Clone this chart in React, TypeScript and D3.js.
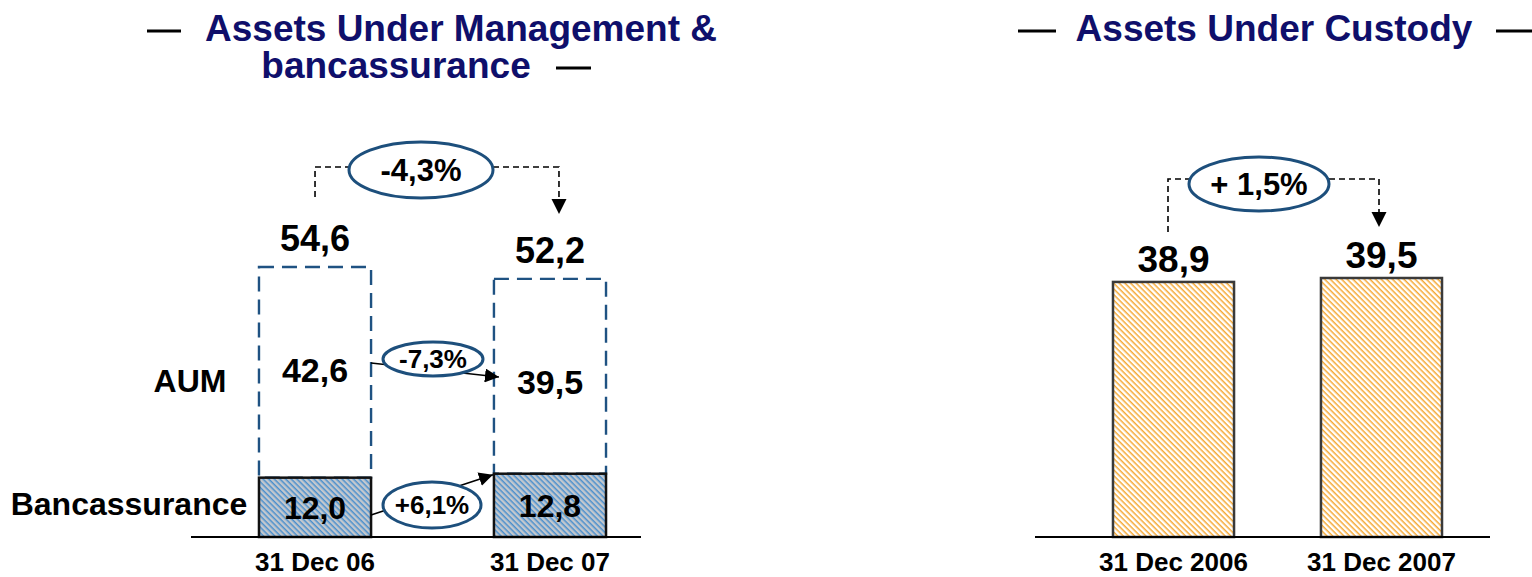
import React, { useRef, useEffect } from 'react';
import * as d3 from 'd3';

// left panel: AUM & bancassurance (EUR bn)
const aumDates = ['31 Dec 06', '31 Dec 07'];
const bancassurance = [12.0, 12.8];
const aum = [42.6, 39.5];
const totals = [54.6, 52.2];
const totalGrowth = '-4,3%';
const aumGrowth = '-7,3%';
const bancGrowth = '+6,1%';

// right panel: assets under custody
const aucDates = ['31 Dec 2006', '31 Dec 2007'];
const auc = [38.9, 39.5];
const aucGrowth = '+ 1,5%';

const W = 1532;
const H = 577;
const FONT = '"Liberation Sans", Arial, Helvetica, sans-serif';
const NAVY = '#0f0f6b';
const RING = '#1d4f7c';

const App = () => {
  const svgRef = useRef<SVGSVGElement>(null);

  useEffect(() => {
    const svg = d3.select(svgRef.current);
    svg.selectAll('*').remove();

    const defs = svg.append('defs');
    // hatch patterns
    const orange = defs.append('pattern')
      .attr('id', 'hatchOrange')
      .attr('patternUnits', 'userSpaceOnUse')
      .attr('width', 4).attr('height', 4)
      .attr('patternTransform', 'rotate(45)');
    orange.append('rect').attr('width', 4).attr('height', 4).attr('fill', '#fff');
    orange.append('rect').attr('width', 4).attr('height', 1.5).attr('fill', '#f5a834');

    const blue = defs.append('pattern')
      .attr('id', 'hatchBlue')
      .attr('patternUnits', 'userSpaceOnUse')
      .attr('width', 4).attr('height', 4)
      .attr('patternTransform', 'rotate(45)');
    blue.append('rect').attr('width', 4).attr('height', 4).attr('fill', '#c3c8ce');
    blue.append('rect').attr('width', 4).attr('height', 1.5).attr('fill', '#4a8fcd');

    defs.append('marker')
      .attr('id', 'arrow')
      .attr('viewBox', '0 0 10 10')
      .attr('refX', 10).attr('refY', 5)
      .attr('markerWidth', 14).attr('markerHeight', 14)
      .attr('markerUnits', 'userSpaceOnUse')
      .attr('orient', 'auto')
      .append('path').attr('d', 'M0,0 L10,5 L0,10 Z').attr('fill', '#000');

    const text = (x, y, s, size, fill = '#000', anchor = 'middle') =>
      svg.append('text')
        .attr('x', x).attr('y', y)
        .attr('text-anchor', anchor)
        .attr('font-family', FONT)
        .attr('font-weight', 'bold')
        .attr('font-size', size)
        .attr('fill', fill)
        .text(s);

    const bubble = (cx, cy, rx, ry, s, size) => {
      svg.append('ellipse')
        .attr('cx', cx).attr('cy', cy).attr('rx', rx).attr('ry', ry)
        .attr('fill', '#fff').attr('stroke', RING).attr('stroke-width', 3);
      text(cx, cy + size * 0.36, s, size);
    };

    // dashed bracket going over the bubble, arrow into the second bar
    const bracket = (x1, y1, x2, y2, yTop, cx, rx) => {
      const g = svg.append('g')
        .attr('fill', 'none').attr('stroke', '#000')
        .attr('stroke-width', 1.6).attr('stroke-dasharray', '6 4');
      g.append('path').attr('d', `M${x1},${y1} V${yTop} H${cx - rx}`);
      g.append('path').attr('d', `M${cx + rx},${yTop} H${x2} V${y2 - 15}`);
      svg.append('path')
        .attr('d', `M${x2 - 7.5},${y2 - 15} L${x2 + 7.5},${y2 - 15} L${x2},${y2} Z`)
        .attr('fill', '#000');
    };

    // ---- titles
    svg.append('line').attr('x1', 147).attr('x2', 181).attr('y1', 31).attr('y2', 31)
      .attr('stroke', '#000').attr('stroke-width', 3);
    text(461, 41, 'Assets Under Management &', 37, NAVY);
    text(396, 78, 'bancassurance', 37, NAVY);
    svg.append('line').attr('x1', 556).attr('x2', 591).attr('y1', 68).attr('y2', 68)
      .attr('stroke', '#000').attr('stroke-width', 3);

    svg.append('line').attr('x1', 1018).attr('x2', 1056).attr('y1', 31).attr('y2', 31)
      .attr('stroke', '#000').attr('stroke-width', 3);
    text(1274, 41, 'Assets Under Custody', 37, NAVY);
    svg.append('line').attr('x1', 1496).attr('x2', 1532).attr('y1', 31).attr('y2', 31)
      .attr('stroke', '#000').attr('stroke-width', 3);

    // ---- left panel
    const x = d3.scaleBand()
      .domain(aumDates)
      .range([141.5, 723.5])
      .paddingInner(0.523)
      .paddingOuter(0.5);
    const y = d3.scaleLinear().domain([0, 54.6]).range([537, 267]);
    const bw = x.bandwidth();

    // dashed AUM boxes
    svg.append('g').selectAll('rect')
      .data(aumDates)
      .join('rect')
      .attr('x', d => x(d))
      .attr('y', (d, i) => y(totals[i]))
      .attr('width', bw)
      .attr('height', (d, i) => y(bancassurance[i]) - y(totals[i]))
      .attr('fill', 'none')
      .attr('stroke', '#1f5282')
      .attr('stroke-width', 2.4)
      .attr('stroke-dasharray', '15 8');

    // bancassurance bars
    svg.append('g').selectAll('rect')
      .data(aumDates)
      .join('rect')
      .attr('x', d => x(d))
      .attr('y', (d, i) => y(bancassurance[i]))
      .attr('width', bw)
      .attr('height', (d, i) => y(0) - y(bancassurance[i]))
      .attr('fill', 'url(#hatchBlue)')
      .attr('stroke', '#111')
      .attr('stroke-width', 2.5);

    svg.append('line')
      .attr('x1', 191).attr('x2', 641).attr('y1', y(0)).attr('y2', y(0))
      .attr('stroke', '#000').attr('stroke-width', 2);

    aumDates.forEach((d, i) => {
      const cx = x(d) + bw / 2;
      text(cx, y(totals[i]) - 16, d3.format('.1f')(totals[i]).replace('.', ','), 36);
      text(cx, y(bancassurance[i] + aum[i] / 2) + 10 + i * 8, d3.format('.1f')(aum[i]).replace('.', ','), 34);
      text(cx, y(bancassurance[i] / 2) + 12, d3.format('.1f')(bancassurance[i]).replace('.', ','), 32);
      text(cx, 571, d, 26);
    });

    text(190, 392, 'AUM', 32);
    text(129, 515, 'Bancassurance', 32);

    // growth arrows between bars
    const left0 = x(aumDates[0]) + bw;
    const left1 = x(aumDates[1]);
    svg.append('line')
      .attr('x1', left0).attr('y1', 363).attr('x2', left1 + 5).attr('y2', 377)
      .attr('stroke', '#000').attr('stroke-width', 1.6)
      .attr('marker-end', 'url(#arrow)');
    bubble(433, 359, 50, 17, aumGrowth, 26);

    svg.append('line')
      .attr('x1', left0).attr('y1', 515).attr('x2', left1 - 1).attr('y2', y(bancassurance[1]) + 1)
      .attr('stroke', '#000').attr('stroke-width', 1.6)
      .attr('marker-end', 'url(#arrow)');
    bubble(432, 505, 49, 23, bancGrowth, 26);

    const c0 = x(aumDates[0]) + bw / 2;
    const c1 = x(aumDates[1]) + bw / 2 + 9;
    bracket(c0, 197, c1, 214, 167, 421, 72);
    bubble(421, 170, 72, 28, totalGrowth, 31);

    // ---- right panel
    const x2 = d3.scaleBand()
      .domain(aucDates)
      .range([1009, 1546])
      .paddingInner(0.418)
      .paddingOuter(0.5);
    const y2 = d3.scaleLinear().domain([0, 39.5]).range([537, 278]);
    const bw2 = x2.bandwidth();

    svg.append('g').selectAll('rect')
      .data(aucDates)
      .join('rect')
      .attr('x', d => x2(d))
      .attr('y', (d, i) => y2(auc[i]))
      .attr('width', bw2)
      .attr('height', (d, i) => y2(0) - y2(auc[i]))
      .attr('fill', 'url(#hatchOrange)')
      .attr('stroke', '#3a3a3a')
      .attr('stroke-width', 2.5);

    svg.append('line')
      .attr('x1', 1035).attr('x2', 1490).attr('y1', y2(0)).attr('y2', y2(0))
      .attr('stroke', '#000').attr('stroke-width', 2);

    aucDates.forEach((d, i) => {
      const cx = x2(d) + bw2 / 2;
      text(cx, y2(auc[i]) - 10, d3.format('.1f')(auc[i]).replace('.', ','), 37);
      text(cx, 571, d, 26);
    });

    bracket(1168, 232, 1379, 227, 179, 1259, 70);
    bubble(1259, 184, 70, 27, aucGrowth, 31);
  }, []);

  return (
    <svg
      ref={svgRef}
      width={W}
      height={H}
      style={{ position: 'absolute', left: 0, top: 0, background: '#fff' }}
    />
  );
};

export default App;
